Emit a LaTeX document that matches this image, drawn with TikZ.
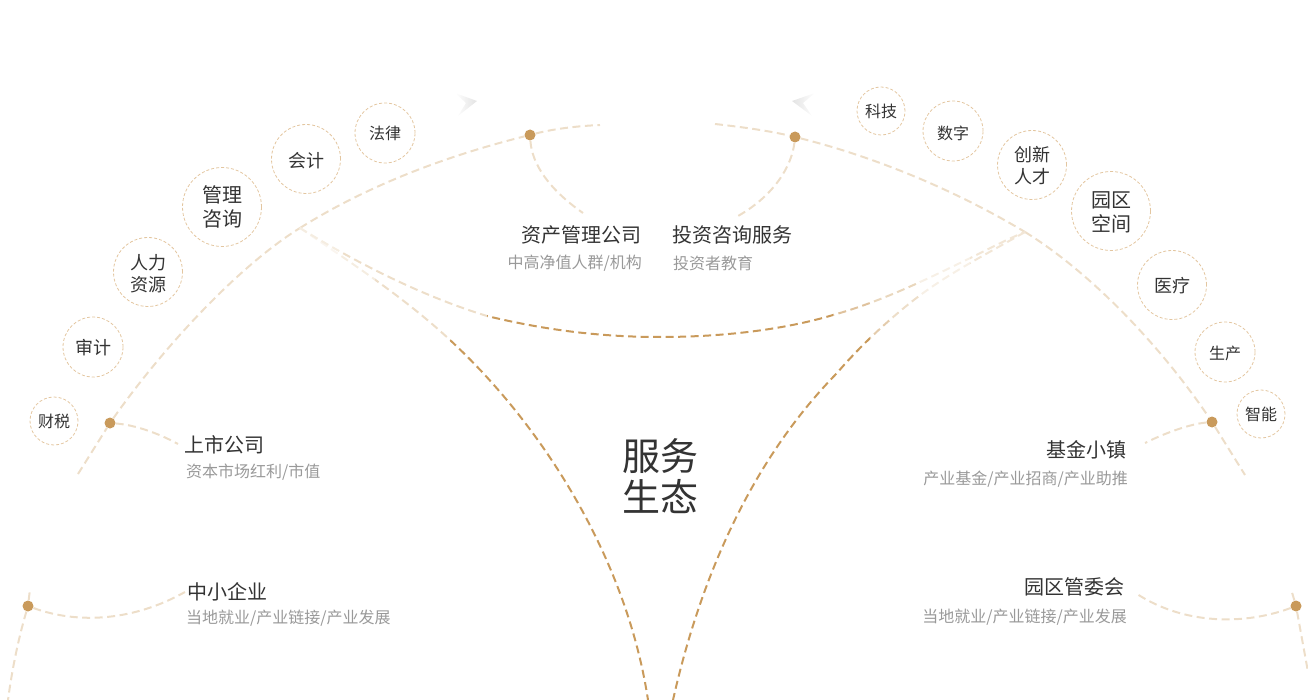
\documentclass[tikz,border=0pt]{standalone}
\usepackage{fontspec}
\setmainfont{Noto Sans CJK SC}
\usetikzlibrary{positioning,calc}
\definecolor{golddot}{HTML}{C99A5B}
\definecolor{ringcol}{HTML}{E3C6A0}
\definecolor{titlecol}{HTML}{333333}
\definecolor{subcol}{HTML}{999999}
\colorlet{goldpale}{golddot!33!white}
\tikzset{
    dotsty/.style={circle,fill=golddot,inner sep=0pt,minimum size=11pt},
    linesty/.style={line width=2pt,dash pattern=on 8pt off 4.5pt},
    palesty/.style={linesty,draw=goldpale},
    ringsty/.style={circle,draw=ringcol,dash pattern=on 3pt off 2pt,line width=0.8pt,inner sep=0pt,text=titlecol,align=center},
    ringa/.style={ringsty,minimum size=48pt,font=\fontsize{16}{22}\selectfont},
    ringb/.style={ringsty,minimum size=60pt,font=\fontsize{16}{22}\selectfont},
    ringe/.style={ringsty,minimum size=60pt,font=\fontsize{18}{22}\selectfont},
    ringc/.style={ringsty,minimum size=69pt,font=\fontsize{18}{22}\selectfont},
    ringd/.style={ringsty,minimum size=79pt,font=\fontsize{20}{24}\selectfont},
    titlesty/.style={inner sep=0pt,text=titlecol,font=\fontsize{20}{24}\selectfont},
    substy/.style={inner sep=0pt,text=subcol,font=\fontsize{16}{20}\selectfont},
    planesty/.style={draw=none},
}
% ring and its text, #4 moves the text down
\newcommand{\ringitem}[5]{
  \node[#1] (#2) at (#3) {};
  \node[#1,draw=none,minimum size=0pt] (#2txt) at ([yshift=-#4pt]#2.center) {#5};
}
\newcommand{\lowleft}{(ljoin) .. controls (350,262) and (405,298) .. (lmid) .. controls (545,428) and (627,561) .. (lfoot)}
\newcommand{\lowright}{(rjoin) .. controls (985,255) and (945,275) .. (rmida) .. controls (880,327) and (855,352) .. (rmidb) .. controls (750,462) and (700,580) .. (rfoot)}
\newcommand{\bowlpath}{(ljoin) .. controls (360,265) and (425,297) .. (bowla) .. controls (545,330) and (600,337) .. (bowl) .. controls (730,337) and (790,328) .. (bowlb) .. controls (880,302) and (925,280) .. (bowlc) .. controls (985,251) and (1005,240) .. (rjoin)}
\begin{document}
\begin{tikzpicture}[x=1pt,y=-1pt]
\useasboundingbox (0,0) rectangle (1308,700);
% coordinates of the arcs
\coordinate (lstart) at (78,474);
\coordinate (ljoin) at (300,228);
\coordinate (lend) at (600,125);
\coordinate (rstart) at (715,124);
\coordinate (rjoin) at (1025,232);
\coordinate (rend) at (1245,475);
\coordinate (lfoot) at (648,700);
\coordinate (rfoot) at (673,700);
\coordinate (lmid) at (450,340);
\coordinate (rmida) at (910,303);
\coordinate (rmidb) at (837,373);
\coordinate (bowl) at (660,337);
\coordinate (bowla) at (487,316);
\coordinate (bowlb) at (833,315);
\coordinate (bowlc) at (960,263);
% dots
\node[dotsty] (dotssgs) at (110,423) {};
\node[dotsty] (dotzcgl) at (530,135) {};
\node[dotsty] (dottzzx) at (795,137) {};
\node[dotsty] (dotjjxz) at (1212,422) {};
\node[dotsty] (dotzxqy) at (28,606) {};
\node[dotsty] (dotyqgw) at (1296,606) {};
% big arcs
\draw[palesty] (lstart) -- (dotssgs);
\draw[palesty] (dotssgs) .. controls (165,345) and (240,265) .. (ljoin);
\draw[palesty] (ljoin) .. controls (370,184) and (450,155) .. (dotzcgl);
\draw[palesty] (dotzcgl) .. controls (553,129) and (577,126) .. (lend);
\draw[palesty] (rstart) .. controls (742,127) and (770,131) .. (dottzzx);
\draw[palesty] (dottzzx) .. controls (875,157) and (955,190) .. (rjoin);
\draw[palesty] (rjoin) .. controls (1090,272) and (1160,345) .. (dotjjxz);
\draw[palesty] (dotjjxz) -- (rend);
% curves under the arcs, colour goes by bands of x
\foreach \xa/\xb/\amt in {290/340/10,340/375/18,375/450/33,450/700/100}{
  \begin{scope}
    \clip (\xa,0) rectangle (\xb,700);
    \draw[linesty,draw=golddot!\amt!white] \lowleft;
  \end{scope}
}
\foreach \xa/\xb/\amt in {660/870/100,870/890/50,890/920/33,920/970/15,970/1030/25}{
  \begin{scope}
    \clip (\xa,0) rectangle (\xb,700);
    \draw[linesty,draw=golddot!\amt!white] \lowright;
  \end{scope}
}
\foreach \xa/\xb/\amt in {290/340/18,340/487/33,487/833/100,833/870/60,870/920/40,920/970/15,970/1030/25}{
  \begin{scope}
    \clip (\xa,0) rectangle (\xb,700);
    \draw[linesty,draw=golddot!\amt!white] \bowlpath;
  \end{scope}
}
% links from dots to the labels
\coordinate (endssgs) at (178,444);
\coordinate (endzcgl) at (583,213);
\coordinate (endtzzx) at (738,216);
\coordinate (endjjxz) at (1145,443);
\coordinate (endzxqy) at (185,592);
\coordinate (endyqgw) at (1137,594);
\draw[palesty] (dotssgs) .. controls (135,425) and (158,433) .. (endssgs);
\draw[palesty] (dotzcgl) .. controls (532,165) and (550,190) .. (endzcgl);
\draw[palesty] (dottzzx) .. controls (792,165) and (775,195) .. (endtzzx);
\draw[palesty] (dotjjxz) .. controls (1190,424) and (1165,433) .. (endjjxz);
\draw[palesty] (dotzxqy) .. controls (80,625) and (135,620) .. (endzxqy);
\draw[palesty] (dotyqgw) .. controls (1245,625) and (1185,625) .. (endyqgw);
\draw[palesty] (dotzxqy) .. controls (18,640) and (12,670) .. (8,700);
\draw[palesty] (dotzxqy) -- (30,589);
\draw[palesty] (dotyqgw) -- (1291,589);
\draw[palesty] (dotyqgw) -- (1308,672);
% rings left
\ringitem{ringa}{caishui}{54,421}{0}{财税}
\ringitem{ringe}{shenji}{93,347}{1}{审计}
\ringitem{ringc}{renli}{148,272}{2}{人力\\资源}
\ringitem{ringd}{guanli}{222,207}{0}{管理\\咨询}
\ringitem{ringc}{kuaiji}{306,159}{2}{会计}
\ringitem{ringb}{falv}{385,133}{0}{法律}
% rings right
\ringitem{ringa}{keji}{881,111}{0}{科技}
\ringitem{ringb}{shuzi}{953,131}{2}{数字}
\ringitem{ringc}{chuangxin}{1032,165}{1}{创新\\人才}
\ringitem{ringd}{yuanqu}{1111,211}{1}{园区\\空间}
\ringitem{ringc}{yiliao}{1172,285}{1}{医疗}
\ringitem{ringb}{shengchan}{1225,352}{1}{生产}
\ringitem{ringa}{zhineng}{1261,414}{0}{智能}
% labels
\node[titlesty,anchor=west] (ssgs) at (184,445) {上市公司};
\node[substy,anchor=west] (ssgssub) at (186,472) {资本市场红利/市值};
\node[titlesty,anchor=east] (zcgl) at (642,235) {资产管理公司};
\node[substy,anchor=east] (zcglsub) at (642,263) {中高净值人群/机构};
\node[titlesty,anchor=west] (tzzx) at (672,235) {投资咨询服务};
\node[substy,anchor=west] (tzzxsub) at (673,263) {投资者教育};
\node[titlesty,anchor=east] (jjxz) at (1127,450) {基金小镇};
\node[substy,anchor=east] (jjxzsub) at (1128,479) {产业基金/产业招商/产业助推};
\node[titlesty,anchor=west] (zxqy) at (187,592) {中小企业};
\node[substy,anchor=west] (zxqysub) at (186,618) {当地就业/产业链接/产业发展};
\node[titlesty,anchor=east] (yqgw) at (1125,587) {园区管委会};
\node[substy,anchor=east] (yqgwsub) at (1127,617) {当地就业/产业链接/产业发展};
\node[inner sep=0pt,align=center,text=titlecol,font=\fontsize{38}{41}\selectfont] (fwst) at (660,476) {服务\\生态};
% paper planes
\shade[planesty,left color=white,right color=black!11] (455,93) -- (477,101) -- (458,116) -- (466,103) -- cycle;
\shade[planesty,right color=white,left color=black!11] (815,93) -- (792,101) -- (812,116) -- (803,103) -- cycle;
\end{tikzpicture}
\end{document}
